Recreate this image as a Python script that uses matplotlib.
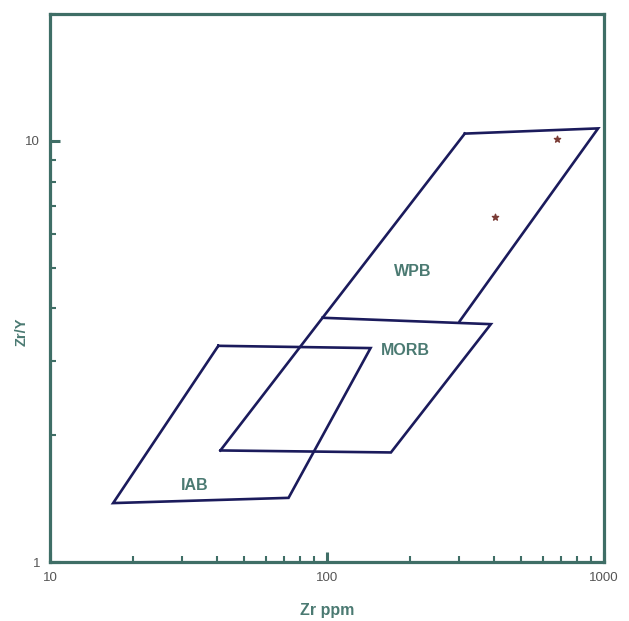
#!/usr/bin/env python3
"""Zr/Y vs Zr tectonic discrimination diagram (Pearce & Norry style)."""
import matplotlib
matplotlib.use("Agg")
import matplotlib.pyplot as plt
from matplotlib.ticker import LogLocator, NullFormatter, FixedFormatter, FixedLocator

plt.rcParams["font.family"] = ["Liberation Sans", "DejaVu Sans"]

# ── Field boundaries (Zr ppm, Zr/Y) ──
diag_x = [41.2, 96.3, 314]          # long left diagonal (MORB left + WPB left)
diag_y = [1.84, 3.8, 10.4]
wpb_x = [314, 951, 301]
wpb_y = [10.4, 10.7, 3.73]
morb_x = [96.3, 390, 170, 41.2]
morb_y = [3.8, 3.67, 1.82, 1.84]
iab_x = [40.5, 143.5, 72.6, 16.9, 40.5]
iab_y = [3.26, 3.22, 1.42, 1.38, 3.26]

# ── Samples ──
sample_zr = [676, 403]
sample_ratio = [10.1, 6.6]

# ── Field labels ──
labels = ["WPB", "MORB", "IAB"]
label_x = [204, 192, 33.4]
label_y = [4.9, 3.17, 1.52]

C_FIELD = "#1b1b5c"
C_AXIS = "#3f6e66"
C_LABEL = "#4b7a72"
C_TICK = "#555555"

fig = plt.figure(figsize=(6.29, 6.21), dpi=100)
ax = fig.add_axes([0.0795, 0.095, 0.881, 0.8825])
ax.set_xscale("log")
ax.set_yscale("log")
ax.set_xlim(10, 1000)
ax.set_ylim(1, 20)

for xs, ys in [(diag_x, diag_y), (wpb_x, wpb_y), (morb_x, morb_y), (iab_x, iab_y)]:
    ax.plot(xs, ys, color=C_FIELD, lw=1.9, solid_joinstyle="miter", zorder=2)

ax.scatter(sample_zr, sample_ratio, marker="*", s=22, color="#7a3b35", zorder=3)

for t, x, y in zip(labels, label_x, label_y):
    ax.text(x, y, t, ha="center", va="center", fontsize=11.5,
            weight="bold", color=C_LABEL, zorder=4)

# spines
for side in ["left", "bottom", "top", "right"]:
    ax.spines[side].set_color(C_AXIS)
    ax.spines[side].set_linewidth(2.3)

# ticks
ax.xaxis.set_major_locator(FixedLocator([10, 100, 1000]))
ax.xaxis.set_major_formatter(FixedFormatter(["10", "100", "1000"]))
ax.xaxis.set_minor_locator(LogLocator(base=10, subs=range(2, 10)))
ax.xaxis.set_minor_formatter(NullFormatter())
ax.yaxis.set_major_locator(FixedLocator([1, 10]))
ax.yaxis.set_major_formatter(FixedFormatter(["1", "10"]))
ax.yaxis.set_minor_locator(LogLocator(base=10, subs=range(2, 10)))
ax.yaxis.set_minor_formatter(NullFormatter())
ax.tick_params(which="major", direction="in", length=7, width=2.2,
               color=C_AXIS, labelsize=9.5, labelcolor=C_TICK, pad=7)
ax.tick_params(which="minor", direction="in", length=4, width=1.5, color=C_AXIS)
ax.tick_params(top=False, right=False, which="both")

ax.set_xlabel("Zr ppm", fontsize=11.5, weight="bold", color=C_LABEL)
ax.xaxis.set_label_coords(0.5, -0.075)
ax.set_ylabel("Zr/Y", fontsize=10.5, weight="bold", color=C_LABEL)
ax.yaxis.set_label_coords(-0.038, 0.42)

fig.savefig("out.png", dpi=100, facecolor="white")
